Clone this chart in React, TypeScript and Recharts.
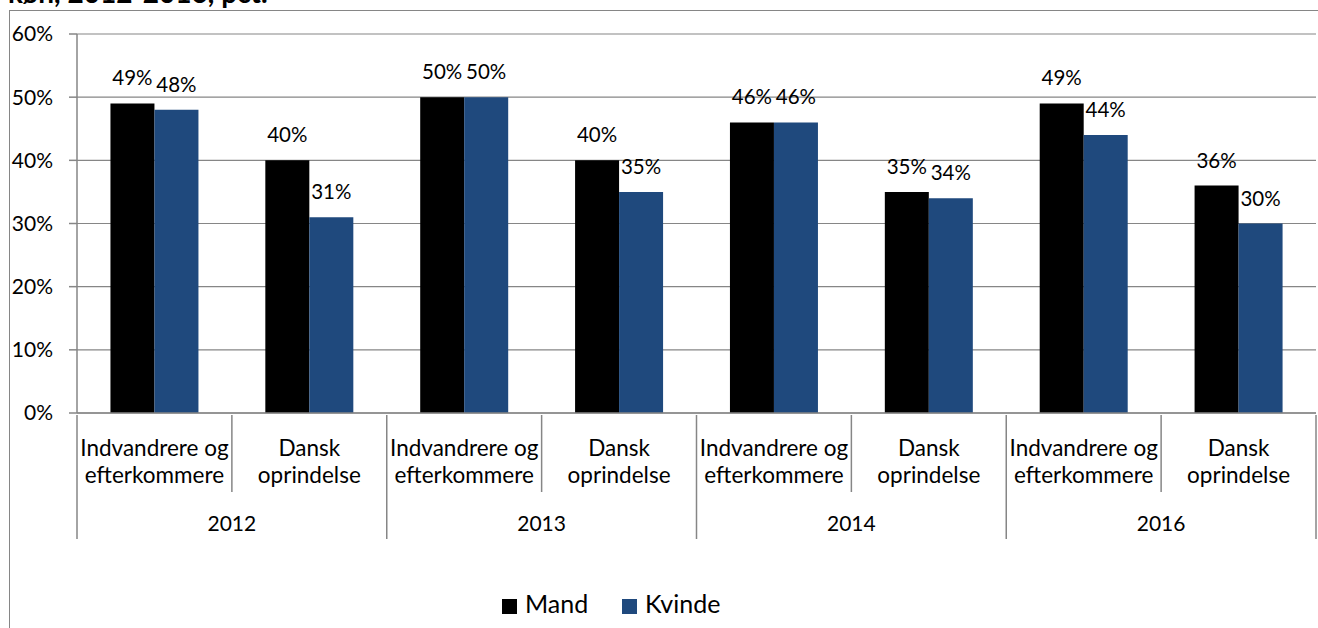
import React from 'react';
import { BarChart, Bar, XAxis, YAxis, CartesianGrid, LabelList, Legend } from 'recharts';

const years = ['2012', '2013', '2014', '2016'];
const groups = ['Indvandrere og\nefterkommere', 'Dansk\noprindelse'];
const mand = [49, 40, 50, 40, 46, 35, 49, 36];
const kvinde = [48, 31, 50, 35, 46, 34, 44, 30];
const yTicks = [0, 10, 20, 30, 40, 50, 60];
const seriesNames = ['Mand', 'Kvinde'];
const titleText = 'køn, 2012-2016, pct.';

const FONT = 'Lato, "Liberation Sans", sans-serif';
const GRAY = '#868686';
const COLOR_MAND = '#000000';
const COLOR_KVINDE = '#1F497D';

const data = mand.map((m, i) => ({
  key: `${years[Math.floor(i / 2)]}-${i % 2}`,
  label: groups[i % 2],
  year: years[Math.floor(i / 2)],
  mand: m,
  kvinde: kvinde[i],
}));

const pct = (v: any) => `${v}%`;

const CategoryTick = (props: any) => {
  const { x, y, index, width, visibleTicksCount } = props;
  const half = Number(width) / Number(visibleTicksCount || data.length) / 2;
  const d = data[index];
  if (!d) return null;
  const lines = d.label.split('\n');
  const isFirst = index % 2 === 0;
  const isLast = index === data.length - 1;
  return (
    <g>
      {lines.map((ln: string, k: number) => (
        <text
          key={k}
          x={x}
          y={y + 41 + k * 27}
          textAnchor="middle"
          fontFamily={FONT}
          fontSize={22.5}
          fill="#000"
        >
          {ln}
        </text>
      ))}
      {isFirst && (
        <>
          <line x1={x - half} x2={x - half} y1={y} y2={y + 124} stroke={GRAY} strokeWidth={1.5} />
          <line x1={x + half} x2={x + half} y1={y} y2={y + 77} stroke={GRAY} strokeWidth={1.5} />
          <text
            x={x + half}
            y={y + 116}
            textAnchor="middle"
            fontFamily={FONT}
            fontSize={21}
            fill="#000"
          >
            {d.year}
          </text>
        </>
      )}
      {isLast && (
        <line x1={x + half} x2={x + half} y1={y} y2={y + 124} stroke={GRAY} strokeWidth={1.5} />
      )}
    </g>
  );
};

const LegendContent = (props: any) => {
  const payload = [...(props.payload || [])].sort(
    (a: any, b: any) => seriesNames.indexOf(a.value) - seriesNames.indexOf(b.value)
  );
  return (
    <div style={{ display: 'flex', paddingLeft: 502, fontFamily: FONT, fontSize: 25, lineHeight: '30px', color: '#000' }}>
      {payload.map((p: any, i: number) => (
        <div key={i} style={{ display: 'flex', width: 120, whiteSpace: 'nowrap' }}>
          <span style={{ display: 'inline-block', flex: 'none', width: 15, height: 15, marginTop: 11, marginRight: 8, background: p.color }} />
          <span>{p.value}</span>
        </div>
      ))}
    </div>
  );
};

export default function App() {
  return (
    <div style={{ position: 'absolute', left: 0, top: 0, width: 1318, height: 628, overflow: 'hidden', background: '#fff' }}>
      <div
        style={{
          position: 'absolute',
          left: 9,
          top: 10,
          width: 1400,
          height: 700,
          border: `1.5px solid ${GRAY}`,
          boxSizing: 'border-box',
        }}
      />
      <div
        style={{
          position: 'absolute',
          left: 8,
          top: -22,
          fontFamily: FONT,
          fontWeight: 700,
          fontSize: 28,
          lineHeight: '28px',
          whiteSpace: 'nowrap',
          color: '#000',
        }}
      >
        {titleText}
      </div>
      <div style={{ position: 'absolute', left: 0, top: 0 }}>
        <BarChart
          width={1318}
          height={628}
          data={data}
          margin={{ top: 34, right: 2, bottom: 0, left: 0 }}
          barGap={0}
          barCategoryGap="21.6%"
          style={{ fontFamily: FONT }}
        >
          <CartesianGrid horizontal vertical={false} stroke={GRAY} strokeWidth={1.2} />
          <YAxis
            width={77}
            domain={[0, 60]}
            ticks={yTicks}
            tickFormatter={pct}
            tickSize={8}
            tickMargin={16}
            axisLine={{ stroke: GRAY, strokeWidth: 1.5 }}
            tickLine={{ stroke: GRAY, strokeWidth: 1.5 }}
            tick={{ fill: '#000', fontSize: 21, fontFamily: FONT }}
            interval={0}
          />
          <XAxis
            dataKey="key"
            height={215}
            interval={0}
            tickSize={0}
            tickLine={false}
            axisLine={{ stroke: GRAY, strokeWidth: 1.5 }}
            tick={<CategoryTick />}
          />
          <Legend
            layout="horizontal"
            verticalAlign="middle"
            align="center"
            wrapperStyle={{ top: 588, left: 0, width: 1318 }}
            content={<LegendContent />}
          />
          <Bar dataKey="mand" name={seriesNames[0]} fill={COLOR_MAND} isAnimationActive={false}>
            <LabelList dataKey="mand" position="top" offset={18} formatter={pct} fill="#000" fontSize={20.5} fontFamily={FONT} />
          </Bar>
          <Bar dataKey="kvinde" name={seriesNames[1]} fill={COLOR_KVINDE} isAnimationActive={false}>
            <LabelList dataKey="kvinde" position="top" offset={18} formatter={pct} fill="#000" fontSize={20.5} fontFamily={FONT} />
          </Bar>
        </BarChart>
      </div>
    </div>
  );
}
